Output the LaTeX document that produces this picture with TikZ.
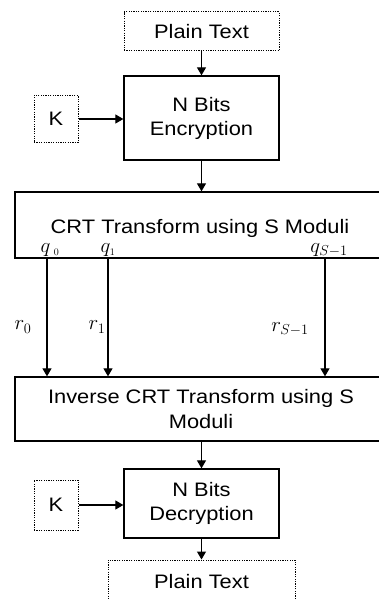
\documentclass[tikz,border=0pt]{standalone}
\usepackage{fontspec}
\setmainfont[FakeStretch=1.12]{Liberation Sans}
\usetikzlibrary{arrows.meta}
\begin{document}
\begin{tikzpicture}[x=1pt,y=1pt,
  every node/.style={font=\fontsize{19.5}{23}\selectfont, inner sep=0pt},
  solidbox/.style={draw, line width=1.3pt, align=center},
  dotbox/.style={draw, line width=1pt, dash pattern=on 1.2pt off 1.2pt, align=center},
  arr/.style={line width=1.2pt, -{Triangle[length=8pt,width=9pt]}},
  mlabel/.style={font=\fontsize{20}{22}\selectfont}]
\useasboundingbox (0,0) rectangle (379,-599);
\clip (0,0) rectangle (379,-599);
% encryption side
\node[dotbox, minimum width=155, minimum height=39] (pt1) at (201.5,-31.5) {Plain Text};
\node[solidbox, minimum width=155, minimum height=84] (enc) at (201.5,-118) {N Bits\\[1pt]Encryption};
\node[dotbox, minimum width=44, minimum height=47] (k1) at (56,-119) {K};
% CRT stage
\node[solidbox, minimum width=372, minimum height=66] (crt) at (201,-225) {};
\node (crttext) at (200,-228) {CRT Transform using S Moduli};
\node[solidbox, minimum width=372, minimum height=64] (inv) at (201,-409) {Inverse CRT Transform using S\\[2pt]Moduli};
% decryption side
\node[solidbox, minimum width=155, minimum height=69] (dec) at (201.5,-503.5) {N Bits\\[1pt]Decryption};
\node[dotbox, minimum width=44, minimum height=50] (k2) at (56,-505) {K};
\node[dotbox, minimum width=187, minimum height=44] (pt2) at (201.5,-582) {Plain Text};
% main flow
\draw[arr] (pt1) -- (enc);
\draw[arr] (k1) -- (enc.west |- k1);
\draw[arr] (enc) -- (enc.south |- crt.north);
\draw[arr] (inv.south -| dec.north) -- (dec);
\draw[arr] (k2) -- (dec.west |- k2);
\draw[arr] (dec) -- (pt2);
% residue channels
\coordinate (c0) at (47,0);
\coordinate (c1) at (108,0);
\coordinate (c2) at (325,0);
\draw[arr] (c0 |- crt.south) -- (c0 |- inv.north);
\draw[arr] (c1 |- crt.south) -- (c1 |- inv.north);
\draw[arr] (c2 |- crt.south) -- (c2 |- inv.north);
\node[mlabel] (q0) at (50,-250) {$q_{\;\scriptscriptstyle 0}$};
\node[mlabel] (q1) at (108,-250) {$q_{\scriptscriptstyle 1}$};
\node[mlabel] (q2) at (329,-250) {$q_{S-1}$};
\node[mlabel] (r0) at (23,-327) {$r_0$};
\node[mlabel] (r1) at (97,-327) {$r_1$};
\node[mlabel] (r2) at (290,-329) {$r_{S-1}$};
\end{tikzpicture}
\end{document}
